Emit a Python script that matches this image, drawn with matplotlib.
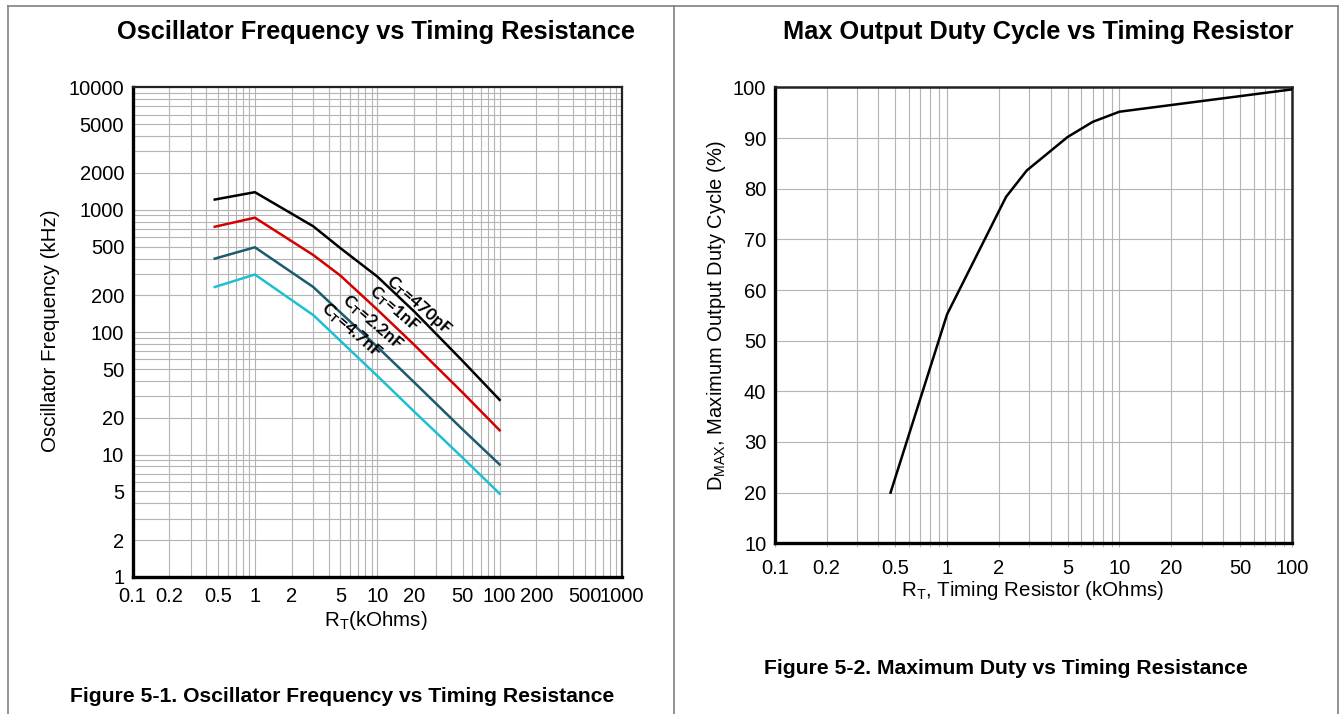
import matplotlib
matplotlib.use("Agg")
import matplotlib.pyplot as plt
from matplotlib.lines import Line2D
from matplotlib.ticker import FixedLocator, LogLocator, NullFormatter, FixedFormatter

plt.rcParams['font.family'] = ['Liberation Sans', 'DejaVu Sans']
plt.rcParams['mathtext.fontset'] = 'custom'
plt.rcParams['mathtext.rm'] = 'Liberation Sans'
plt.rcParams['mathtext.bf'] = 'Lato:bold'

# ---------------- data: left chart ----------------
rt_osc = [0.47, 1, 3, 5, 10, 20, 50, 100]
f_470pF = [1213, 1393, 733, 486, 285, 148, 58, 28]
f_1nF = [727, 862, 427, 290, 153, 79, 32, 15.8]
f_2p2nF = [399, 494, 234, 145, 76, 39, 16, 8.3]
f_4p7nF = [234, 296, 138, 85, 44, 22.5, 9.4, 4.8]
osc_labels = ['470pF', '1nF', '2.2nF', '4.7nF']
osc_colors = ['#000000', '#d40000', '#1c5a6c', '#1dbfd3']
left_xticks = [0.1, 0.2, 0.5, 1, 2, 5, 10, 20, 50, 100, 200, 500, 1000]
left_xticklabels = ['0.1', '0.2', '0.5', '1', '2', '5', '10', '20', '50', '100', '200', '500', '1000']
left_yticks = [1, 2, 5, 10, 20, 50, 100, 200, 500, 1000, 2000, 5000, 10000]
left_yticklabels = ['1', '2', '5', '10', '20', '50', '100', '200', '500', '1000', '2000', '5000', '10000']
# label anchor points (data coords)
lab_x = [21.9, 13.7, 9.2, 6.1]
lab_y = [167, 155, 121, 104]

# ---------------- data: right chart ----------------
rt_duty = [0.47, 1, 2.2, 2.9, 5, 7, 10, 100]
dmax = [20, 55.2, 78.4, 83.6, 90.2, 93.2, 95.2, 99.6]
right_xticks = [0.1, 0.2, 0.5, 1, 2, 5, 10, 20, 50, 100]
right_xticklabels = ['0.1', '0.2', '0.5', '1', '2', '5', '10', '20', '50', '100']
right_yticks = [10, 20, 30, 40, 50, 60, 70, 80, 90, 100]

W, H = 1340, 714
fig = plt.figure(figsize=(W / 100, H / 100), dpi=100)

def fx(px):
    return px / W

def fy(py):
    return 1 - py / H

grid_c = '#b4b4b4'

# ---------------- left axes ----------------
axL = fig.add_axes([fx(132.5), fy(577), (622 - 132.5) / W, (577 - 87.4) / H])
for y, c in zip([f_470pF, f_1nF, f_2p2nF, f_4p7nF], osc_colors):
    axL.plot(rt_osc, y, color=c, lw=1.8, zorder=3)
axL.set_xscale('log')
axL.set_yscale('log')
axL.set_xlim(0.1, 1000)
axL.set_ylim(1, 10000)
axL.xaxis.set_major_locator(FixedLocator(left_xticks))
axL.xaxis.set_major_formatter(FixedFormatter(left_xticklabels))
axL.yaxis.set_major_locator(FixedLocator(left_yticks))
axL.yaxis.set_major_formatter(FixedFormatter(left_yticklabels))
for ax_ in (axL.xaxis, axL.yaxis):
    ax_.set_minor_locator(LogLocator(base=10, subs=range(1, 10), numticks=20))
    ax_.set_minor_formatter(NullFormatter())
axL.grid(True, which='both', color=grid_c, lw=0.8)
axL.tick_params(which='both', length=0, labelsize=14.5)
axL.tick_params(axis='x', pad=7)
axL.tick_params(axis='y', pad=6)
axL.set_axisbelow(True)
for s in ['left', 'bottom']:
    axL.spines[s].set_linewidth(2.4)
for s in ['top', 'right']:
    axL.spines[s].set_linewidth(1.6)
    axL.spines[s].set_color('#222222')
axL.set_xlabel(r'R$_\mathregular{T}$(kOhms)', fontsize=14.8)
axL.xaxis.set_label_coords((376 - 132.5) / (622 - 132.5), -(620 - 577) / (577 - 87.4), transform=axL.transAxes)
axL.xaxis.label.set_va('center')
axL.set_ylabel('Oscillator Frequency (kHz)', fontsize=14.8)
axL.yaxis.set_label_coords(-(132.5 - 51) / (622 - 132.5), (577 - 331) / (577 - 87.4), transform=axL.transAxes)
axL.yaxis.label.set_va('center')

for lbl, x, y in zip(osc_labels, lab_x, lab_y):
    axL.text(x, y, r'$\mathbf{C_T}$=' + lbl, fontsize=12.5, fontweight='bold',
             family=['Lato', 'DejaVu Sans'], rotation=-41, rotation_mode='anchor',
             ha='center', va='center', zorder=4)

# ---------------- right axes ----------------
axR = fig.add_axes([fx(774.7), fy(543.3), (1291.8 - 774.7) / W, (543.3 - 87.4) / H])
axR.plot(rt_duty, dmax, color='black', lw=1.8, zorder=3)
axR.set_xscale('log')
axR.set_xlim(0.1, 100)
axR.set_ylim(10, 100)
axR.xaxis.set_major_locator(FixedLocator(right_xticks))
axR.xaxis.set_major_formatter(FixedFormatter(right_xticklabels))
axR.xaxis.set_minor_locator(LogLocator(base=10, subs=range(1, 10), numticks=20))
axR.xaxis.set_minor_formatter(NullFormatter())
axR.yaxis.set_major_locator(FixedLocator(right_yticks))
axR.grid(True, which='both', axis='x', color=grid_c, lw=0.8)
axR.grid(True, which='major', axis='y', color=grid_c, lw=0.8)
axR.tick_params(which='both', labelsize=14.5)
axR.tick_params(axis='x', which='both', direction='out', length=3, color=grid_c, pad=8)
axR.tick_params(axis='y', which='both', length=0, pad=6)
axR.set_axisbelow(True)
for s in ['left', 'bottom']:
    axR.spines[s].set_linewidth(2.4)
for s in ['top', 'right']:
    axR.spines[s].set_linewidth(1.8)
    axR.spines[s].set_color('#222222')
axR.set_xlabel(r'R$_\mathregular{T}$, Timing Resistor (kOhms)', fontsize=14.8)
axR.xaxis.set_label_coords((1033 - 774.7) / (1291.8 - 774.7), -(590.6 - 543.3) / (543.3 - 87.4), transform=axR.transAxes)
axR.xaxis.label.set_va('center')
axR.set_ylabel(r'D$_\mathregular{MAX}$, Maximum Output Duty Cycle (%)', fontsize=14.5)
axR.yaxis.set_label_coords(-(774.7 - 717) / (1291.8 - 774.7), (543.3 - 316) / (543.3 - 87.4), transform=axR.transAxes)
axR.yaxis.label.set_va('center')

# ---------------- titles & captions ----------------
fig.text(fx(376), fy(32), 'Oscillator Frequency vs Timing Resistance', fontsize=18.3,
         fontweight='bold', ha='center', va='center')
fig.text(fx(1038.6), fy(32), 'Max Output Duty Cycle vs Timing Resistor', fontsize=18.3,
         fontweight='bold', ha='center', va='center')
fig.text(fx(342), fy(696), 'Figure 5-1. Oscillator Frequency vs Timing Resistance', fontsize=15.2,
         fontweight='bold', ha='center', va='center')
fig.text(fx(1006), fy(668), 'Figure 5-2. Maximum Duty vs Timing Resistance', fontsize=15.2,
         fontweight='bold', ha='center', va='center')

# ---------------- panel borders ----------------
bc = '#808080'
for xs, ys in [([8, 1338], [6, 6]), ([8, 8], [6, 714]), ([674, 674], [6, 714]), ([1338, 1338], [6, 714])]:
    fig.add_artist(Line2D([fx(v) for v in xs], [fy(v) for v in ys], color=bc, lw=1.2))

fig.savefig('out.png', dpi=100)
